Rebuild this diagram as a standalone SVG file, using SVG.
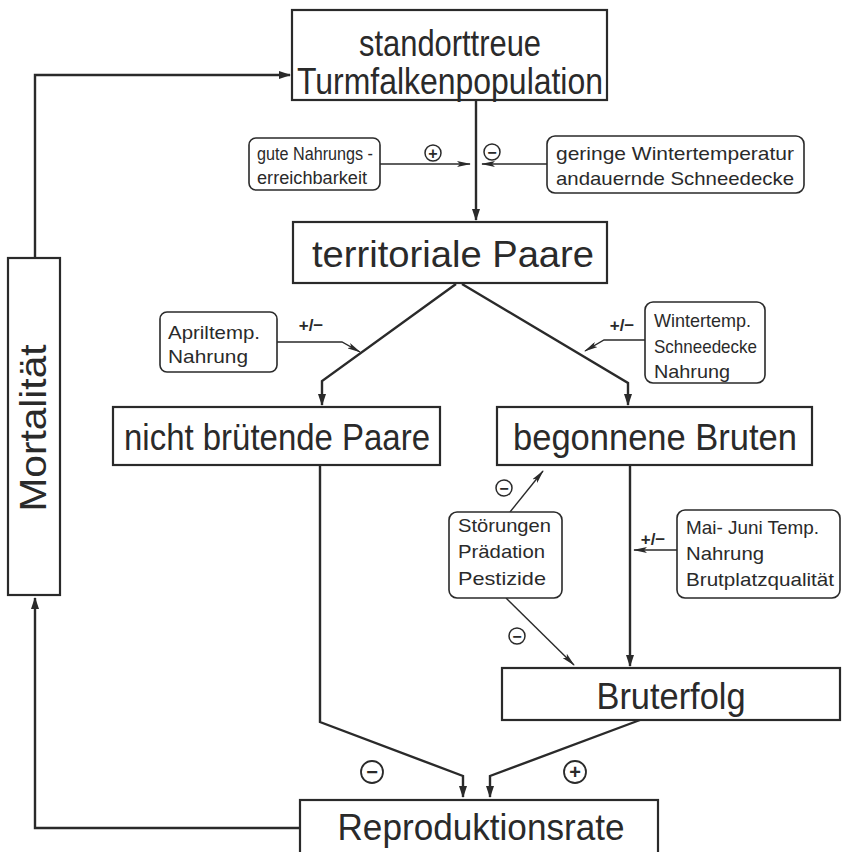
<svg xmlns="http://www.w3.org/2000/svg" width="853" height="852" viewBox="0 0 853 852">
<defs>
<marker id="ah" viewBox="0 0 12 8" refX="11" refY="4" markerWidth="12" markerHeight="8" markerUnits="userSpaceOnUse" orient="auto">
<path d="M0,0 L12,4 L0,8 z" fill="#2a2a2a"/>
</marker>
<marker id="ahs" viewBox="0 0 14 6" refX="13" refY="3" markerWidth="14" markerHeight="6" markerUnits="userSpaceOnUse" orient="auto">
<path d="M0,0 L14,3 L0,6 L3,3 z" fill="#2a2a2a"/>
</marker>
</defs>
<style>
.box{fill:#fff;stroke:#2a2a2a;stroke-width:2.2}
.rbox{fill:#fff;stroke:#2a2a2a;stroke-width:1.6}
.big{font-family:"Liberation Sans",Arial,sans-serif;font-size:36px;fill:#2a2a2a;text-anchor:middle}
.sm{font-family:"Liberation Sans",Arial,sans-serif;font-size:19px;fill:#2a2a2a}
.lbl{font-family:"Liberation Sans",Arial,sans-serif;font-size:16px;fill:#2a2a2a;text-anchor:middle;font-weight:bold}
.pm{font-family:"Liberation Sans",Arial,sans-serif;font-size:17px;fill:#2a2a2a;text-anchor:middle;font-weight:bold}
.c{fill:none;stroke:#2a2a2a;stroke-width:2.4;marker-end:url(#ah)}
.t{fill:none;stroke:#2a2a2a;stroke-width:1.4;marker-end:url(#ahs)}
.sym{fill:none;stroke:#2a2a2a;stroke-width:1.5}
.symb{fill:none;stroke:#2a2a2a;stroke-width:1.8}
</style>
<rect width="853" height="852" fill="#fff"/>

<g id="connectors">
<path class="c" d="M35,258 V75 H290"/>
<path class="c" d="M476,100 V220"/>
<path class="t" d="M380,164 H470"/>
<path class="t" d="M547,164 H482"/>
<path class="c" d="M456,284 L322,381 V405"/>
<path class="c" d="M462,284 L628,383 V405"/>
<path class="t" d="M277,342 H342 L360,352"/>
<path class="t" d="M645,340 H604 L585,351"/>
<path class="c" d="M320,465 V722 L463,776 V797"/>
<path class="c" d="M640,720 L490,776 V797"/>
<path class="c" d="M630,465 V666"/>
<path class="t" d="M677,550 H634"/>
<path class="t" d="M510,512 L543,471"/>
<path class="t" d="M506,598 L574,665"/>
<path class="c" d="M300,828 H35 V598"/>
</g>

<g id="symbols">
<circle class="sym" cx="433" cy="153" r="8"/><text class="lbl" x="433" y="159">+</text>
<circle class="sym" cx="492" cy="152" r="8"/><text class="lbl" x="492" y="158">−</text>
<text class="pm" x="311" y="331">+/−</text>
<text class="pm" x="622" y="331">+/−</text>
<text class="pm" x="653" y="545">+/−</text>
<circle class="sym" cx="504" cy="488" r="8"/><text class="lbl" x="504" y="494">−</text>
<circle class="sym" cx="517" cy="636" r="8"/><text class="lbl" x="517" y="642">−</text>
<circle class="symb" cx="372" cy="772" r="11"/><text class="lbl" x="372" y="779" style="font-size:20px">−</text>
<circle class="symb" cx="575" cy="772" r="11"/><text class="lbl" x="575" y="779" style="font-size:20px">+</text>
</g>

<g id="n-top">
<rect class="box" x="292" y="10" width="315" height="90"/>
<text class="big" x="450" y="56" textLength="182" lengthAdjust="spacingAndGlyphs">standorttreue</text>
<text class="big" x="450" y="94" textLength="306" lengthAdjust="spacingAndGlyphs">Turmfalkenpopulation</text>
</g>
<g id="n-gute">
<rect class="rbox" x="249" y="138" width="131" height="52" rx="7"/>
<text class="sm" x="257" y="160" style="font-size:17.5px" textLength="116" lengthAdjust="spacingAndGlyphs">gute Nahrungs -</text>
<text class="sm" x="257" y="184" style="font-size:17.5px" textLength="110" lengthAdjust="spacingAndGlyphs">erreichbarkeit</text>
</g>
<g id="n-geringe">
<rect class="rbox" x="547" y="136" width="257" height="57" rx="8"/>
<text class="sm" x="556" y="160" textLength="238" lengthAdjust="spacingAndGlyphs">geringe Wintertemperatur</text>
<text class="sm" x="556" y="185" textLength="238" lengthAdjust="spacingAndGlyphs">andauernde Schneedecke</text>
</g>
<g id="n-territorial">
<rect class="box" x="293" y="222" width="314" height="61"/>
<text class="big" x="453" y="267" textLength="282" lengthAdjust="spacingAndGlyphs">territoriale Paare</text>
</g>
<g id="n-april">
<rect class="rbox" x="160" y="312" width="117" height="60" rx="7"/>
<text class="sm" x="168" y="339" textLength="92" lengthAdjust="spacingAndGlyphs">Apriltemp.</text>
<text class="sm" x="168" y="363" textLength="80" lengthAdjust="spacingAndGlyphs">Nahrung</text>
</g>
<g id="n-winter">
<rect class="rbox" x="645" y="302" width="120" height="81" rx="8"/>
<text class="sm" x="654" y="327" textLength="97" lengthAdjust="spacingAndGlyphs">Wintertemp.</text>
<text class="sm" x="654" y="353" textLength="103" lengthAdjust="spacingAndGlyphs">Schneedecke</text>
<text class="sm" x="654" y="378" textLength="76" lengthAdjust="spacingAndGlyphs">Nahrung</text>
</g>
<g id="n-nicht">
<rect class="box" x="113" y="407" width="327" height="58"/>
<text class="big" x="277" y="450" textLength="306" lengthAdjust="spacingAndGlyphs">nicht brütende Paare</text>
</g>
<g id="n-begonnene">
<rect class="box" x="497" y="407" width="315" height="58"/>
<text class="big" x="655" y="450" textLength="284" lengthAdjust="spacingAndGlyphs">begonnene Bruten</text>
</g>
<g id="n-stoerungen">
<rect class="rbox" x="449" y="512" width="113" height="86" rx="8"/>
<text class="sm" x="458" y="532" textLength="93" lengthAdjust="spacingAndGlyphs">Störungen</text>
<text class="sm" x="458" y="558" textLength="87" lengthAdjust="spacingAndGlyphs">Prädation</text>
<text class="sm" x="458" y="585" textLength="88" lengthAdjust="spacingAndGlyphs">Pestizide</text>
</g>
<g id="n-mai">
<rect class="rbox" x="677" y="510" width="163" height="88" rx="8"/>
<text class="sm" x="686" y="534" textLength="133" lengthAdjust="spacingAndGlyphs">Mai- Juni Temp.</text>
<text class="sm" x="686" y="560" textLength="78" lengthAdjust="spacingAndGlyphs">Nahrung</text>
<text class="sm" x="686" y="586" textLength="148" lengthAdjust="spacingAndGlyphs">Brutplatzqualität</text>
</g>
<g id="n-bruterfolg">
<rect class="box" x="502" y="668" width="338" height="52"/>
<text class="big" x="671" y="709" textLength="149" lengthAdjust="spacingAndGlyphs">Bruterfolg</text>
</g>
<g id="n-repro">
<rect class="box" x="300" y="800" width="358" height="60"/>
<text class="big" x="481" y="840" textLength="287" lengthAdjust="spacingAndGlyphs">Reproduktionsrate</text>
</g>
<g id="n-mort">
<rect class="box" x="8" y="258" width="52" height="337"/>
<text class="big" x="0" y="0" transform="translate(46,428) rotate(-90)" textLength="167" lengthAdjust="spacingAndGlyphs">Mortalität</text>
</g>
</svg>
